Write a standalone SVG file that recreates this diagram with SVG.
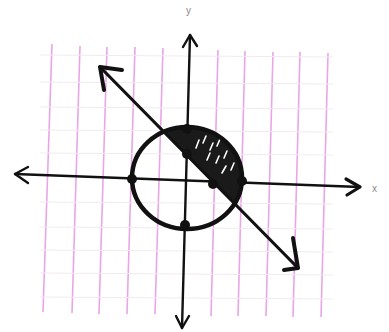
<svg xmlns="http://www.w3.org/2000/svg" width="389" height="332" viewBox="0 0 389 332">
<style>
.vg{stroke:#e9a6e6;stroke-width:1.6;fill:none}
.hg{stroke:#f1eaf0;stroke-width:1.2;fill:none}
.ax{stroke:#111;stroke-width:2.4;fill:none;stroke-linecap:round;stroke-linejoin:round}
.ln{stroke:#111;stroke-width:3.2;fill:none;stroke-linecap:round;stroke-linejoin:round}
.ah{stroke:#111;stroke-width:4;fill:none;stroke-linecap:round;stroke-linejoin:round}
.dot{fill:#111}
.dash{stroke:#fff;stroke-width:1.6;stroke-linecap:round}
.lbl{font-family:"Liberation Sans",Arial,sans-serif;font-size:10px;fill:#888}
</style>
<rect width="389" height="332" fill="#fff"/>
<g id="grid">
<path class="vg" d="M52 44L43 312M80 46L72 313M107 47L99 314M135 47L127 314M163 48L155 314M218 50L211 316M245 51L238 316M273 52L266 316M300 52L293 317M328 53L321 317"/>
<path class="hg" d="M40 55L333 57M40 82L333 84M40 107L333 109M40 130L333 132M40 153L333 155M40 202L333 204M40 227L333 229M40 250L333 252M40 273L333 275M40 297L333 299"/>
</g>
<g id="axes">
<path class="ax" d="M15 174L360 187"/>
<path class="ax" d="M28 167L15 174L28 183"/>
<path class="ax" d="M346 179L360 187L347 195" style="stroke-width:3.2"/>
<path class="ax" d="M190 35L182 328"/>
<path class="ax" d="M183 47L190 35L197 46"/>
<path class="ax" d="M176 316L182 328L189 316"/>
<text class="lbl" x="186" y="14">y</text>
<text class="lbl" x="372" y="192">x</text>
</g>
<g id="region">
<path d="M163.8 131.8A55 51 0 0 1 234.6 203.6Z" fill="#1a1a1a"/>
<path class="dash" d="M196 148L199 140M203 143L206 136M210 150L213 143M217 146L220 139M207 160L210 153M216 163L219 156M224 158L227 151M222 173L226 166M231 170L234 163"/>
</g>
<g id="circle">
<ellipse cx="187" cy="178" rx="55" ry="51" fill="none" stroke="#111" stroke-width="4.5"/>
</g>
<g id="line">
<path class="ln" d="M100 67L298 268"/>
<path class="ah" d="M122 70L100 67L104 90"/>
<path class="ah" d="M293 238L298 268L284 270"/>
</g>
<g id="points">
<circle class="dot" cx="132" cy="179" r="5"/>
<circle class="dot" cx="187" cy="154" r="5"/>
<circle class="dot" cx="185" cy="225" r="5"/>
<circle class="dot" cx="213" cy="184" r="5"/>
<circle class="dot" cx="242" cy="181" r="5"/>
<circle class="dot" cx="187" cy="129" r="5"/>
</g>
</svg>
